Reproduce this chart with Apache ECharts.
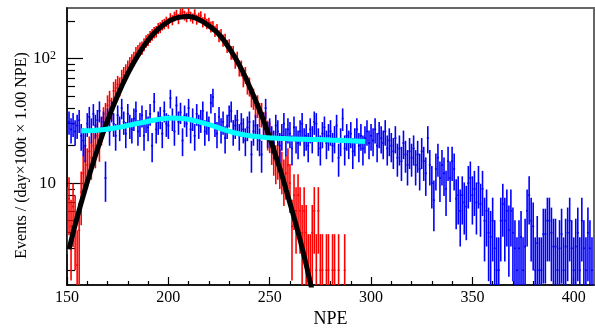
<!DOCTYPE html>
<html>
<head>
<meta charset="utf-8">
<script src="https://cdn.jsdelivr.net/npm/echarts@6/dist/echarts.min.js"></script>
<style>
html,body{margin:0;padding:0;background:#fff;}
#chart{width:595px;height:333px;}
</style>
</head>
<body>
<div id="chart"></div>
<script>
// ---------------- data ----------------
const binStart = 150;          // first bin centre (NPE), bin width 1 NPE
// red histogram (events / (day x 100t x 1.00 NPE)), bins 150..289, 0 = empty bin
const redValues = [
  6, 7.5, 4.5, 6.5, 5, 2.2, 4.2, 8.5, 12, 15,
  14, 18, 16, 20, 19, 24, 21, 27, 33, 36,
  42, 46, 40, 55, 58, 62, 60, 70, 74, 78,
  84, 90, 95, 100, 110, 114, 120, 122, 130, 138,
  142, 150, 156, 162, 165, 175, 178, 186, 190, 198,
  192, 212, 204, 218, 226, 208, 230, 236, 222, 215,
  234, 218, 210, 228, 206, 214, 220, 196, 210, 190,
  194, 180, 182, 166, 172, 152, 156, 140, 142, 126,
  128, 112, 112, 96, 100, 84, 84, 70, 74, 62,
  60, 50, 48, 42, 42, 36, 36, 30, 30, 25,
  24, 20, 17, 15, 16, 14, 13, 11, 12, 14,
  10, 4.5, 8, 6, 8, 6, 4, 6, 4, 2,
  2, 4, 6, 2, 6, 2, 2, 0, 2, 2,
  0, 2, 2, 0, 2, 0, 0, 2, 0, 0
];
// blue histogram, bins 150..409
const blueValues = [
  28, 31, 27, 30, 26, 29, 32, 24, 22, 20,
  30, 34, 27, 36, 29, 32, 38, 28, 31, 11,
  33, 26, 38, 30, 24, 35, 28, 40, 31, 25,
  36, 29, 27, 33, 38, 26, 30, 35, 24, 32,
  28, 36, 20, 45, 27, 31, 34, 25, 38, 30,
  29, 48, 33, 26, 42, 31, 37, 22, 35, 30,
  40, 27, 33, 24, 36, 29, 32, 38, 26, 31,
  28, 44, 49, 30, 25, 34, 27, 31, 23, 29,
  35, 38, 26, 29, 32, 24, 30, 27, 22, 28,
  31, 17, 26, 29, 24, 22, 17, 30, 40, 25,
  27, 23, 21, 29, 26, 20, 24, 30, 22, 27,
  25, 19, 28, 23, 21, 26, 30, 22, 24, 20,
  27, 23, 31, 30, 22, 19, 25, 28, 21, 24,
  26, 20, 23, 29, 16, 22, 33, 19, 24, 21,
  25, 18, 22, 27, 20, 24, 19, 23, 26, 21,
  24, 22, 27, 20, 25, 23, 21, 26, 19, 22,
  20, 18, 23, 16, 19, 15, 21, 17, 14, 18,
  16, 19, 14, 17, 13, 18, 15, 12, 23, 14,
  10, 7.3, 13, 16, 11, 14, 12, 9, 15, 11,
  15, 13, 7.5, 8, 6, 8, 7, 6.5, 10, 11,
  8, 9, 7, 10, 6.8, 9, 5, 6, 4, 3.7,
  5, 3, 2, 2, 5, 6.8, 5, 6, 4.2, 6,
  4, 3, 2, 3, 3.7, 2, 3.1, 6, 8, 5,
  4.5, 2, 3.3, 2, 2, 3.9, 3.9, 5, 5, 4,
  3.1, 3.1, 2, 3, 3.9, 2, 3.1, 4, 5, 3,
  2, 3.1, 4, 2, 5, 3, 2, 4, 3, 2
];
// black fit curve
const blackFitX = [151, 155, 160, 165, 170, 175, 180, 185, 190, 195, 200, 205, 210, 215, 220, 225, 230, 235, 240, 245, 250, 255, 260, 265, 270, 272];
const blackFitY = [2.95, 5.3, 10.2, 18.6, 31.7, 50.6, 75.7, 106, 140, 172, 198, 214, 218, 206, 183, 156, 121, 89, 60, 38.5, 23.2, 13.1, 6.9, 3.5, 1.6, 1.15];
// cyan fit curve
const cyanFitX = [157, 162, 167, 172, 177, 182, 187, 192, 197, 202, 207, 212, 217, 222, 227, 232, 237, 242, 247, 252, 257, 262, 267, 272, 277, 282, 287, 292, 297];
const cyanFitY = [26.3, 26.4, 26.8, 27.5, 28.3, 29.5, 30.6, 31.8, 32.8, 33.3, 33.0, 32.0, 30.5, 28.8, 27.0, 25.5, 24.5, 23.8, 23.3, 23.0, 22.8, 22.6, 22.5, 22.4, 22.3, 22.1, 22.0, 21.8, 21.6];
// ticks
const xMajorTicks = [150, 200, 250, 300, 350, 400];
const xMinorTicks = [160, 170, 180, 190, 210, 220, 230, 240, 260, 270, 280, 290, 310, 320, 330, 340, 360, 370, 380, 390];
const yMajorTicks = [10, 100];
const yMinorTicks = [2, 3, 4, 5, 6, 7, 8, 9, 20, 30, 40, 50, 60, 70, 80, 90, 200];
const RED_ERR_SCALE = 1.8;  // events per count (statistical error = sqrt(value * scale))
const BLUE_ERR_SCALE = 1.4;

// ---------------- build ----------------
function toBins(values, scale) {
  const out = [];
  values.forEach((v, i) => {
    if (v > 0) out.push([binStart + i, v, Math.sqrt(v * scale)]);
  });
  return out;
}
function zip(xs, ys) { return xs.map((x, i) => [x, ys[i]]); }

function errBars(color) {
  return function (params, api) {
    const x = api.value(0), v = api.value(1), e = api.value(2);
    const lo = Math.max(v - e, 0.2);
    const pTop = api.coord([x, v + e]);
    const pLo = api.coord([x, lo]);
    const pL = api.coord([x - 0.5, v]);
    const pR = api.coord([x + 0.5, v]);
    return {
      type: 'group',
      children: [
        { type: 'line', shape: { x1: pTop[0], y1: pTop[1], x2: pLo[0], y2: pLo[1] }, style: { stroke: color, lineWidth: 1.6 } },
        { type: 'line', shape: { x1: pL[0], y1: pL[1], x2: pR[0], y2: pR[1] }, style: { stroke: color, lineWidth: 1.6 } }
      ]
    };
  };
}

const FONT = 'Liberation Serif';
const YMIN = 1.523, YMAX = 254.5;

const chart = echarts.init(document.getElementById('chart'), null, { renderer: 'canvas' });
chart.setOption({
  animation: false,
  backgroundColor: '#fff',
  grid: { left: 67, right: 1, top: 8, bottom: 44, show: true, borderColor: '#666', borderWidth: 2, backgroundColor: 'transparent' },
  xAxis: [
    {
      type: 'value', min: 150, max: 410, position: 'bottom',
      name: 'NPE', nameLocation: 'middle', nameGap: 25, nameMoveOverlap: false,
      nameTextStyle: { fontFamily: FONT, fontSize: 18, color: '#000' },
      axisLine: { show: true, onZero: false, lineStyle: { color: '#000', width: 1.5 } },
      axisTick: { show: true, inside: true, length: 8, customValues: xMajorTicks, lineStyle: { color: '#000', width: 1.2 } },
      axisLabel: { customValues: xMajorTicks, fontFamily: FONT, fontSize: 16, color: '#000', margin: 5 },
      splitLine: { show: false }
    },
    {
      type: 'value', min: 150, max: 410, position: 'bottom',
      axisLine: { show: false, onZero: false },
      axisTick: { show: true, inside: true, length: 4, customValues: xMinorTicks, lineStyle: { color: '#000', width: 1.2 } },
      axisLabel: { show: false },
      splitLine: { show: false }
    }
  ],
  yAxis: [
    {
      type: 'log', logBase: 10, min: YMIN, max: YMAX, position: 'left',
      name: 'Events / (day×100t × 1.00 NPE)', nameLocation: 'middle', nameGap: 37, nameMoveOverlap: false,
      nameTextStyle: { fontFamily: FONT, fontSize: 16, color: '#000', padding: [0, 18, 0, 0] },
      axisLine: { show: true, onZero: false, lineStyle: { color: '#000', width: 1.5 } },
      axisTick: { show: true, inside: true, length: 16, customValues: yMajorTicks, lineStyle: { color: '#000', width: 1.2 } },
      axisLabel: {
        customValues: yMajorTicks, margin: 11, fontFamily: FONT, fontSize: 17, color: '#000',
        formatter: function (v) { return Math.round(v) === 100 ? '10{sup|2}' : String(Math.round(v)); },
        rich: { sup: { fontFamily: FONT, fontSize: 12, verticalAlign: 'top', lineHeight: 10, padding: [0, 0, 8, 0] } }
      },
      splitLine: { show: false }
    },
    {
      type: 'log', logBase: 10, min: YMIN, max: YMAX, position: 'left',
      axisLine: { show: false, onZero: false },
      axisTick: { show: true, inside: true, length: 8, customValues: yMinorTicks, lineStyle: { color: '#000', width: 1.2 } },
      axisLabel: { show: false },
      splitLine: { show: false }
    }
  ],
  series: [
    { type: 'custom', name: 'red', renderItem: errBars('#ff0000'), data: toBins(redValues, RED_ERR_SCALE), encode: { x: 0, y: 1 }, clip: true, z: 2 },
    { type: 'custom', name: 'blue', renderItem: errBars('#0000ff'), data: toBins(blueValues, BLUE_ERR_SCALE), encode: { x: 0, y: 1 }, clip: true, z: 3 },
    { type: 'line', name: 'fit1', data: zip(blackFitX, blackFitY), smooth: true, showSymbol: false, clip: true, z: 4,
      lineStyle: { color: '#000', width: 5 } },
    { type: 'line', name: 'fit2', data: zip(cyanFitX, cyanFitY), smooth: true, showSymbol: false, clip: true, z: 5,
      lineStyle: { color: '#00ffff', width: 5 } }
  ]
});
</script>
</body>
</html>
